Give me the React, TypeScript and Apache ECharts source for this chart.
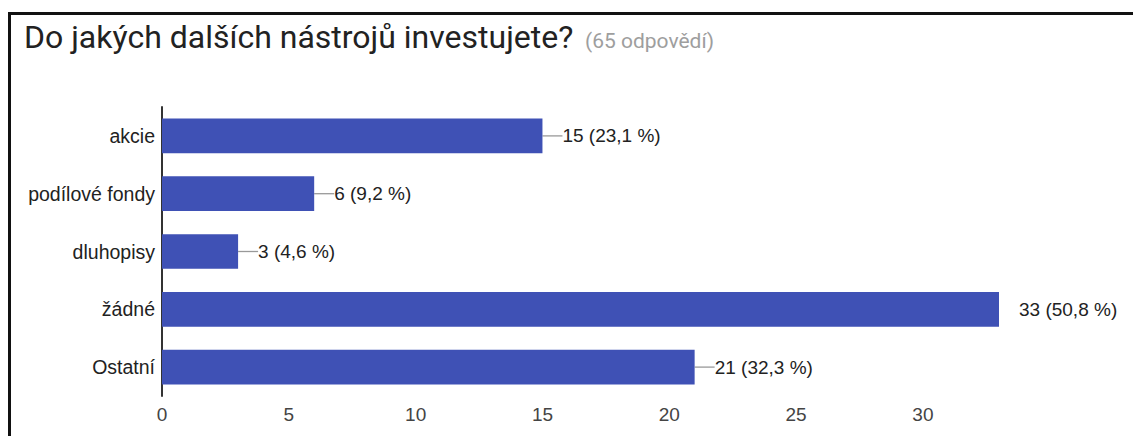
import React, { useEffect, useRef } from "react";
import * as echarts from "echarts";

const titleText = "Do jakých dalších nástrojů investujete?";
const subtitleText = "(65 odpovědí)";
const categories = ["akcie", "podílové fondy", "dluhopisy", "žádné", "Ostatní"];
const counts = [15, 6, 3, 33, 21];
const percents = ["23,1", "9,2", "4,6", "50,8", "32,3"];
const showLeader = [true, true, true, false, true];

export default function App() {
  const ref = useRef<HTMLDivElement>(null);
  useEffect(() => {
    if (!ref.current) return;
    const chart = echarts.init(ref.current, undefined, { renderer: "svg" });
    const labelFont = "Arial, 'Liberation Sans', sans-serif";
    chart.setOption({
      animation: false,
      backgroundColor: "#ffffff",
      grid: { left: 162, right: 134, top: 107, bottom: 40, containLabel: false },
      xAxis: {
        type: "value",
        min: 0,
        max: 33,
        interval: 5,
        axisLine: { show: false },
        axisTick: { show: false },
        splitLine: { show: false },
        axisLabel: {
          margin: 9,
          color: "#444",
          fontSize: 19,
          fontFamily: labelFont,
          formatter: (v: number) => (v % 5 === 0 ? String(v) : ""),
        },
      },
      yAxis: {
        type: "category",
        inverse: true,
        data: categories,
        axisLine: { show: true, lineStyle: { color: "#333", width: 2 } },
        axisTick: { show: false },
        axisLabel: {
          margin: 7,
          color: "#222",
          fontSize: 19.5,
          fontFamily: labelFont,
        },
      },
      series: [
        {
          type: "bar",
          barCategoryGap: "40%",
          itemStyle: { color: "#3f51b5" },
          data: counts.map((c, i) => ({
            value: c,
            labelLine: { show: showLeader[i] },
          })),
          label: {
            show: true,
            position: "right",
            distance: 0,
            color: "#222",
            fontSize: 19,
            fontFamily: labelFont,
            formatter: (p: any) => `${counts[p.dataIndex]} (${percents[p.dataIndex]} %)`,
          },
          labelLayout: { dx: 20 },
          labelLine: { show: true, lineStyle: { color: "#999", width: 1.3 } },
        },
      ],
      graphic: [
        {
          type: "polyline",
          shape: { points: [[9.5, 436], [9.5, 13.5], [1133, 13.5]] },
          style: { stroke: "#111", lineWidth: 3, fill: "none" },
        },
        {
          type: "text",
          x: 24,
          y: 37,
          style: {
            text: titleText,
            fill: "#222",
            fontSize: 32,
            fontFamily: "Roboto, sans-serif",
            verticalAlign: "middle",
          },
        },
        {
          type: "text",
          x: 585,
          y: 40.5,
          style: {
            text: subtitleText,
            fill: "#9e9e9e",
            fontSize: 21,
            fontFamily: "Roboto, sans-serif",
            verticalAlign: "middle",
          },
        },
      ],
    });
    return () => chart.dispose();
  }, []);
  return (
    <div
      ref={ref}
      style={{ position: "absolute", left: 0, top: 0, width: 1133, height: 436 }}
    />
  );
}
